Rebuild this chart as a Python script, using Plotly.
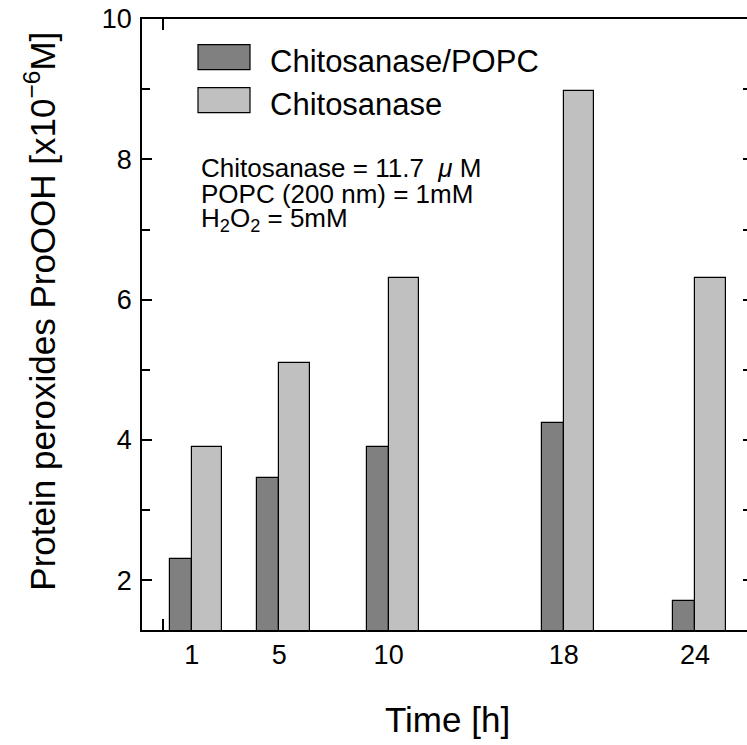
import plotly.graph_objects as go

# ---- data ----
times = [1, 5, 10, 18, 24]
tick_labels = ["1", "5", "10", "18", "24"]
chitosanase_popc = [2.30, 3.46, 3.90, 4.25, 1.71]
chitosanase = [3.90, 5.10, 6.31, 8.98, 6.31]
series_names = ["Chitosanase/POPC", "Chitosanase"]
info_lines = ["Chitosanase = 11.7  <i>μ</i> M", "POPC (200 nm) = 1mM", "H<sub>2</sub>O<sub>2</sub> = 5mM"]

FONT = "Liberation Sans, Arial, sans-serif"
DARK = "#808080"
LIGHT = "#c0c0c0"

W, H = 747, 745
L, R, T, B = 142, 747, 19.3, 630.3
pw, ph = R - L, B - T

def px(x):
    return (x - L) / pw

def py(y):
    return (B - y) / ph

fig = go.Figure()
fig.add_trace(go.Bar(x=times, y=chitosanase_popc, name=series_names[0], width=1.0, offset=-1.0,
                     marker=dict(color=DARK, line=dict(color="black", width=1.2)), showlegend=False))
fig.add_trace(go.Bar(x=times, y=chitosanase, name=series_names[1], width=1.4, offset=0.0,
                     marker=dict(color=LIGHT, line=dict(color="black", width=1.2)), showlegend=False))
# invisible trace to drive the overlay axes
fig.add_trace(go.Scatter(x=[times[0]], y=[chitosanase[0]], xaxis="x2", yaxis="y2", mode="markers",
                         marker=dict(opacity=0), showlegend=False, hoverinfo="skip"))

xr = [-1.271, 26.376]
yr = [1.293, 10.0]

fig.update_layout(
    width=W, height=H,
    margin=dict(l=L, r=W - R, t=T, b=H - B, pad=0),
    paper_bgcolor="white", plot_bgcolor="white",
    font=dict(family=FONT, size=27, color="black"),
    bargap=0,
    xaxis=dict(range=xr, tickvals=times, ticktext=tick_labels, ticks="", showgrid=False, zeroline=False,
               showline=True, linecolor="black", linewidth=1.5, mirror=True,
               tickfont=dict(size=27), ticklabelstandoff=0),
    xaxis2=dict(range=xr, overlaying="x", anchor="y", side="bottom", tickvals=[-0.3],
                ticks="inside", ticklen=11, tickwidth=1.5, tickcolor="black", mirror="ticks",
                showticklabels=False, showgrid=False, zeroline=False, showline=False),
    yaxis=dict(range=yr, tick0=0, dtick=2, ticks="inside", ticklen=10, tickwidth=1.5, tickcolor="black",
               showgrid=False, zeroline=False, showline=True, linecolor="black", linewidth=1.5,
               tickfont=dict(size=27), ticklabelstandoff=3,
               minor=dict(ticks="inside", ticklen=8, tickwidth=1.5, tickcolor="black", dtick=1, tick0=0,
                          showgrid=False)),
    yaxis2=dict(range=yr, overlaying="y", side="right", anchor="x", tick0=0, dtick=1,
                ticks="inside", ticklen=4, tickwidth=1.5, tickcolor="black",
                showticklabels=False, showgrid=False, zeroline=False, showline=False),
)

shapes = []
annots = []
# legend boxes
legend_boxes = [(198, 45, 250, 70), (198, 88, 250, 113)]
legend_colors = [DARK, LIGHT]
legend_text_y = [62, 105]
for (x0, y0, x1, y1), c, ty, name in zip(legend_boxes, legend_colors, legend_text_y, series_names):
    shapes.append(dict(type="rect", xref="paper", yref="paper", x0=px(x0), x1=px(x1), y0=py(y1), y1=py(y0),
                       fillcolor=c, line=dict(color="black", width=1.2)))
    annots.append(dict(text=name, xref="paper", yref="paper", x=px(268), y=py(ty), xanchor="left",
                       yanchor="middle", showarrow=False, font=dict(size=31)))

# info text
for line, ty in zip(info_lines, [168, 194, 220]):
    annots.append(dict(text=line, xref="paper", yref="paper", x=px(199), y=py(ty), xanchor="left",
                       yanchor="middle", showarrow=False, font=dict(size=26)))

# axis titles
annots.append(dict(text="Time [h]", xref="paper", yref="paper", x=px(447.5), y=py(720), xanchor="center",
                   yanchor="middle", showarrow=False, font=dict(size=35)))
annots.append(dict(text="Protein peroxides ProOOH [x10<sup>−6</sup>M]", xref="paper", yref="paper",
                   x=px(40), y=py(312), xanchor="center", yanchor="middle", textangle=-90,
                   showarrow=False, font=dict(size=35)))

fig.update_layout(shapes=shapes, annotations=annots)
fig.write_html("out.html")
